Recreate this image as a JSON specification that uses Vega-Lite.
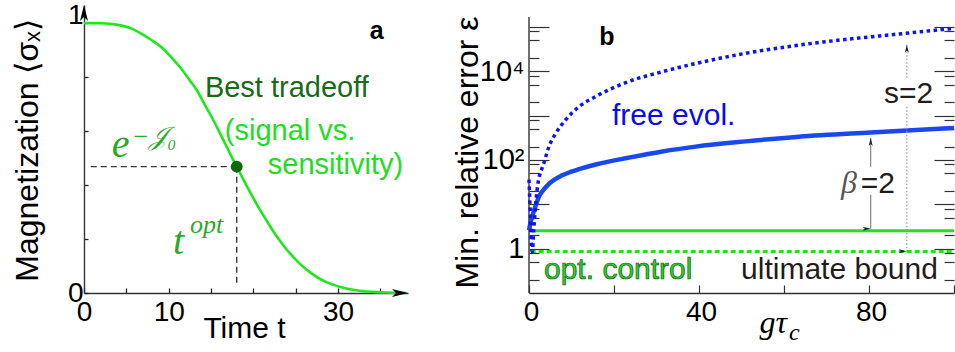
{
  "$schema": "https://vega.github.io/schema/vega-lite/v6.json",
  "padding": {"left": 10, "top": 1, "right": 0, "bottom": 0},
  "background": "white",
  "config": {
    "view": {"stroke": null},
    "font": "Liberation Sans",
    "axis": {"labelFont": "Liberation Sans", "titleFont": "Liberation Sans", "labelColor": "#000", "titleColor": "#000", "titleFontWeight": "normal", "grid": false, "labelOverlap": false, "labelFlush": false}
  },
  "datasets": {
    "curveA": [
      {"t": 0, "m": 1.0}, {"t": 2, "m": 0.999}, {"t": 4, "m": 0.993}, {"t": 5.4, "m": 0.982}, {"t": 7, "m": 0.956},
      {"t": 8, "m": 0.936}, {"t": 9.4, "m": 0.903}, {"t": 10.5, "m": 0.866}, {"t": 11.3, "m": 0.838}, {"t": 12.5, "m": 0.787},
      {"t": 13.3, "m": 0.752}, {"t": 14.3, "m": 0.695}, {"t": 15.3, "m": 0.638}, {"t": 16, "m": 0.595}, {"t": 16.75, "m": 0.548},
      {"t": 17.4, "m": 0.506}, {"t": 18.03, "m": 0.468}, {"t": 18.8, "m": 0.421}, {"t": 19.6, "m": 0.374}, {"t": 20.5, "m": 0.323},
      {"t": 21.6, "m": 0.266}, {"t": 22.5, "m": 0.221}, {"t": 23.5, "m": 0.178}, {"t": 24.5, "m": 0.14}, {"t": 25.5, "m": 0.108},
      {"t": 26.5, "m": 0.081}, {"t": 27.5, "m": 0.059}, {"t": 28.5, "m": 0.042}, {"t": 29.4, "m": 0.031}, {"t": 30.5, "m": 0.02},
      {"t": 31.4, "m": 0.014}, {"t": 32.5, "m": 0.0085}, {"t": 33.4, "m": 0.0056}, {"t": 34.5, "m": 0.0032}, {"t": 35.7, "m": 0.0017},
      {"t": 37, "m": 0.0005}, {"t": 38, "m": 0.0}
    ],
    "markerA": [{"t": 18.03, "m": 0.468}],
    "guidesA": [
      {"t": 0.8, "t2": 18.03, "m": 0.468, "m2": 0.468},
      {"t": 18.03, "t2": 18.03, "m": 0.468, "m2": 0.023}
    ],
    "axisArrowsA": [{"t": 38.25, "m": 0, "dir": "right"}, {"t": 0, "m": 1.0667, "dir": "up"}],
    "labelA": [{"t": 34.55, "m": 0.941, "text": "a"}],
    "bestA": [{"t": 14.27, "m": 0.726, "text": "Best tradeoff"}],
    "greenA": [{"t": 16.63, "m": 0.567, "text": "(signal vs."}, {"t": 21.7, "m": 0.441, "text": "sensitivity)"}],
    "mathBigA": [{"t": 3.27, "m": 0.504, "text": "e"}, {"t": 10.5, "m": 0.144, "text": "t"}],
    "mathSupA": [{"t": 5.63, "m": 0.548, "text": "−𝒥₀"}, {"t": 12.5, "m": 0.222, "text": "opt"}],
    "blueSolid": [
      {"x": 0, "v": 2.6}, {"x": 0.3, "v": 3.6}, {"x": 0.8, "v": 5.5}, {"x": 1.6, "v": 9.5}, {"x": 2.35, "v": 15},
      {"x": 3.1, "v": 19.5}, {"x": 4.7, "v": 29}, {"x": 7.8, "v": 45}, {"x": 11.8, "v": 62}, {"x": 15.7, "v": 79},
      {"x": 23.5, "v": 113}, {"x": 31.4, "v": 156}, {"x": 39.2, "v": 200}, {"x": 51, "v": 263}, {"x": 63.5, "v": 335},
      {"x": 80.4, "v": 417}, {"x": 100, "v": 525}
    ],
    "blueDotted": [
      {"x": 0, "v": 36}, {"x": 0.3, "v": 6}, {"x": 0.55, "v": 1.2}, {"x": 0.8, "v": 0.86}, {"x": 1.1, "v": 2.5},
      {"x": 1.5, "v": 8}, {"x": 2.0, "v": 25}, {"x": 3.5, "v": 85}, {"x": 4.7, "v": 200}, {"x": 6.3, "v": 400},
      {"x": 8.6, "v": 800}, {"x": 11.8, "v": 1600}, {"x": 15.7, "v": 2700}, {"x": 23.5, "v": 5900}, {"x": 31.4, "v": 9800},
      {"x": 39.2, "v": 15000}, {"x": 51, "v": 25500}, {"x": 63.5, "v": 39000}, {"x": 88.6, "v": 72000}, {"x": 100, "v": 93000}
    ],
    "greenSolid": [{"x": 0, "v": 2.55}, {"x": 100, "v": 2.55}],
    "greenDotted": [{"x": 0.4, "v": 0.86}, {"x": 100, "v": 0.86}],
    "frameB": [{"x": 0, "v": 0.1, "v2": 168000}],
    "betaArrow": [{"x": 80.4, "v": 314, "v2": 70.7}, {"x": 80.4, "v": 16.5, "v2": 2.83}],
    "sArrow": [{"x": 88.9, "v": 39900, "v2": 6470}, {"x": 88.9, "v": 1595, "v2": 0.87}],
    "headsB": [
      {"x": 80.4, "v": 314, "dir": "up"}, {"x": 80.4, "v": 2.83, "dir": "down"},
      {"x": 88.9, "v": 39900, "dir": "up"}, {"x": 88.9, "v": 0.87, "dir": "down"}
    ],
    "labelB": [{"x": 18.35, "v": 40000, "text": "b"}],
    "freeB": [{"x": 19.53, "v": 626, "text": "free evol."}],
    "darkB": [{"x": 83.5, "v": 1963, "text": "s=2"}, {"x": 78.05, "v": 18.3, "text": "=2"}, {"x": 49.9, "v": 0.207, "text": "ultimate bound"}],
    "betaB": [{"x": 73.4, "v": 18.3, "text": "β"}],
    "optB": [{"x": 3.53, "v": 0.207, "text": "opt. control"}],
    "subB": [{"x": 61.2, "v": 0.00887, "text": "c"}]
  },
  "bounds": "flush",
  "spacing": 121,
  "hconcat": [
    {
      "width": 324,
      "height": 288,
      "encoding": {
        "x": {"field": "t", "type": "quantitative", "scale": {"domain": [0, 38.25], "nice": false, "zero": false}},
        "y": {"field": "m", "type": "quantitative", "scale": {"domain": [0, 1.0667], "nice": false}}
      },
      "layer": [
        {
          "data": {"name": "guidesA"},
          "mark": {"type": "rule", "color": "#3a3a3a", "strokeWidth": 1.4, "strokeDash": [6, 4]},
          "encoding": {
            "x": {"field": "t", "type": "quantitative",
              "axis": {
                "values": [0, 5, 10, 15, 20, 25, 30, 35],
                "tickSize": -5, "tickColor": "#222", "tickWidth": 1.3,
                "domainColor": "#333", "domainWidth": 1.4,
                "labelExpr": "datum.value == 0 || datum.value == 10 || datum.value == 30 ? datum.label : ''",
                "labelFontSize": 28, "labelPadding": 10, "labelBaseline": "top",
                "title": "Time t", "titleFontSize": 30, "titleX": 160, "titleY": 44,
                "titleBaseline": "alphabetic", "titleAlign": "center"
              }},
            "x2": {"field": "t2"},
            "y": {"field": "m", "type": "quantitative",
              "axis": {
                "values": [0, 0.1, 0.2, 0.3, 0.4, 0.5, 0.6, 0.7, 0.8, 0.9, 1],
                "tickSize": -4, "tickColor": "#222", "tickWidth": 1.3,
                "domainColor": "#333", "domainWidth": 1.4,
                "labelExpr": "datum.value == 0 ? '0' : datum.value == 0.5 ? '0.5' : datum.value == 1 ? '1' : ''",
                "labelFontSize": 28, "labelPadding": 5,
                "labelBaseline": {"condition": {"test": "datum.value == 1", "value": "alphabetic"}, "value": "middle"},
                "title": "Magnetization ⟨σₓ⟩", "titleFontSize": 32, "titleX": -47, "titleY": 145,
                "titleAngle": -90, "titleAlign": "center", "titleBaseline": "alphabetic"
              }},
            "y2": {"field": "m2"}
          }
        },
        {
          "data": {"name": "curveA"},
          "mark": {"type": "line", "color": "#1de81d", "strokeWidth": 2.6, "interpolate": "monotone"},
          "encoding": {}
        },
        {
          "data": {"name": "markerA"},
          "mark": {"type": "point", "filled": true, "color": "#0b6b0b", "opacity": 1, "size": 140},
          "encoding": {}
        },
        {
          "data": {"name": "axisArrowsA"},
          "mark": {"type": "point", "filled": true, "color": "#000", "opacity": 1, "size": 64},
          "encoding": {
            "shape": {"field": "dir", "type": "nominal", "legend": null,
              "scale": {"domain": ["right", "up"], "range": ["M0,0L-4,-1L-3,0L-4,1Z", "M0,0L-1,4L0,3L1,4Z"]}}
          }
        },
        {
          "data": {"name": "labelA"},
          "mark": {"type": "text", "font": "Liberation Sans", "fontWeight": "bold", "fontSize": 25, "align": "center", "baseline": "alphabetic", "color": "#000"},
          "encoding": {"text": {"field": "text"}}
        },
        {
          "data": {"name": "bestA"},
          "mark": {"type": "text", "font": "Liberation Sans", "fontSize": 29, "align": "left", "baseline": "alphabetic", "color": "#176b17"},
          "encoding": {"text": {"field": "text"}}
        },
        {
          "data": {"name": "greenA"},
          "mark": {"type": "text", "font": "Liberation Sans", "fontSize": 29, "align": "left", "baseline": "alphabetic", "color": "#22dd22"},
          "encoding": {"text": {"field": "text"}}
        },
        {
          "data": {"name": "mathBigA"},
          "mark": {"type": "text", "font": "Liberation Serif", "fontStyle": "italic", "fontSize": 40, "align": "left", "baseline": "alphabetic", "color": "#2aaa2a"},
          "encoding": {"text": {"field": "text"}}
        },
        {
          "data": {"name": "mathSupA"},
          "mark": {"type": "text", "font": "Liberation Serif", "fontStyle": "italic", "fontSize": 26, "align": "left", "baseline": "alphabetic", "color": "#2aaa2a"},
          "encoding": {"text": {"field": "text"}}
        }
      ]
    },
    {
      "width": 425,
      "height": 288,
      "encoding": {
        "x": {"field": "x", "type": "quantitative", "scale": {"domain": [0, 100], "nice": false, "zero": false}},
        "y": {"field": "v", "type": "quantitative", "scale": {"type": "log", "domain": [0.1, 313000], "nice": false}}
      },
      "resolve": {"axis": {"y": "independent"}},
      "layer": [
        {
          "data": {"name": "frameB"},
          "mark": {"type": "rule", "color": "#333", "strokeWidth": 1.4},
          "encoding": {
            "x": {"field": "x", "type": "quantitative",
              "axis": {
                "values": [0, 20, 40, 60, 80, 100],
                "tickSize": -8, "tickColor": "#333", "tickWidth": 1.2,
                "domainColor": "#333", "domainWidth": 1.4,
                "labelExpr": "datum.value == 0 || datum.value == 40 || datum.value == 80 ? datum.label : ''",
                "labelFontSize": 28, "labelPadding": 13, "labelBaseline": "top", "labelOffset": 2,
                "title": "gτ", "titleFont": "Liberation Serif", "titleFontStyle": "italic", "titleFontSize": 32,
                "titleX": 230, "titleY": 39, "titleBaseline": "alphabetic", "titleAlign": "left"
              }},
            "y": {"field": "v", "type": "quantitative",
              "axis": {
                "orient": "left",
                "values": [0.2, 0.5, 0.8, 1, 2, 5, 8, 10, 20, 50, 80, 100, 200, 500, 800, 1000, 2000, 5000, 8000, 10000, 20000, 50000, 80000, 100000],
                "domain": false,
                "tickSize": {"condition": {"test": "datum.value == 1 || datum.value == 10 || datum.value == 100 || datum.value == 1000 || datum.value == 10000 || datum.value == 100000", "value": -20}, "value": -10},
                "tickColor": "#333", "tickWidth": 1.2,
                "labelExpr": "datum.value == 1 ? '1' : datum.value == 100 ? '10²' : datum.value == 10000 ? '10⁴' : ''",
                "labelFontSize": 29, "labelPadding": 25, "labelBaseline": "middle",
                "title": "Min. relative error ε", "titleFontSize": 32, "titleX": -52, "titleY": 147,
                "titleAngle": -90, "titleAlign": "center", "titleBaseline": "alphabetic"
              }},
            "y2": {"field": "v2"}
          }
        },
        {
          "data": {"name": "greenSolid"},
          "mark": {"type": "line", "color": "#22e022", "strokeWidth": 3},
          "encoding": {
            "y": {"field": "v", "type": "quantitative",
              "axis": {
                "orient": "right",
                "values": [0.2, 0.5, 0.8, 1, 2, 5, 8, 10, 20, 50, 80, 100, 200, 500, 800, 1000, 2000, 5000, 8000, 10000, 20000, 50000, 80000, 100000],
                "domain": false, "labels": false, "title": null,
                "tickSize": {"condition": {"test": "datum.value == 1 || datum.value == 10 || datum.value == 100 || datum.value == 1000 || datum.value == 10000 || datum.value == 100000", "value": -20}, "value": -10},
                "tickColor": "#333", "tickWidth": 1.2
              }}
          }
        },
        {
          "data": {"name": "greenDotted"},
          "mark": {"type": "line", "color": "#22e022", "strokeWidth": 3, "strokeDash": [5, 3]},
          "encoding": {"y": {"field": "v", "type": "quantitative", "axis": null}}
        },
        {
          "data": {"name": "blueSolid"},
          "mark": {"type": "line", "color": "#1a48ee", "strokeWidth": 4.5, "interpolate": "monotone"},
          "encoding": {"y": {"field": "v", "type": "quantitative", "axis": null}}
        },
        {
          "data": {"name": "blueDotted"},
          "mark": {"type": "line", "color": "#0a14f0", "strokeWidth": 3.5, "strokeDash": [3.5, 3.5], "interpolate": "monotone"},
          "encoding": {"y": {"field": "v", "type": "quantitative", "axis": null}}
        },
        {
          "data": {"name": "betaArrow"},
          "mark": {"type": "rule", "color": "#888", "strokeWidth": 1.2},
          "encoding": {"y": {"field": "v", "type": "quantitative", "axis": null}, "y2": {"field": "v2"}}
        },
        {
          "data": {"name": "sArrow"},
          "mark": {"type": "rule", "color": "#999", "strokeWidth": 1.2, "strokeDash": [1.5, 2]},
          "encoding": {"y": {"field": "v", "type": "quantitative", "axis": null}, "y2": {"field": "v2"}}
        },
        {
          "data": {"name": "headsB"},
          "mark": {"type": "point", "filled": true, "color": "#222", "opacity": 1, "size": 16},
          "encoding": {
            "y": {"field": "v", "type": "quantitative", "axis": null},
            "shape": {"field": "dir", "type": "nominal", "legend": null,
              "scale": {"domain": ["up", "down"], "range": ["M0,0L-1.2,4L0,3.2L1.2,4Z", "M0,0L-1.2,-4L0,-3.2L1.2,-4Z"]}}
          }
        },
        {
          "data": {"name": "labelB"},
          "mark": {"type": "text", "font": "Liberation Sans", "fontWeight": "bold", "fontSize": 25, "align": "center", "baseline": "alphabetic", "color": "#000"},
          "encoding": {"y": {"field": "v", "type": "quantitative", "axis": null}, "text": {"field": "text"}}
        },
        {
          "data": {"name": "freeB"},
          "mark": {"type": "text", "font": "Liberation Sans", "fontSize": 30, "align": "left", "baseline": "alphabetic", "color": "#0b0bee"},
          "encoding": {"y": {"field": "v", "type": "quantitative", "axis": null}, "text": {"field": "text"}}
        },
        {
          "data": {"name": "darkB"},
          "mark": {"type": "text", "font": "Liberation Sans", "fontSize": 30, "align": "left", "baseline": "alphabetic", "color": "#241c1c"},
          "encoding": {"y": {"field": "v", "type": "quantitative", "axis": null}, "text": {"field": "text"}}
        },
        {
          "data": {"name": "betaB"},
          "mark": {"type": "text", "font": "Liberation Serif", "fontStyle": "italic", "fontSize": 32, "align": "left", "baseline": "alphabetic", "color": "#555"},
          "encoding": {"y": {"field": "v", "type": "quantitative", "axis": null}, "text": {"field": "text"}}
        },
        {
          "data": {"name": "optB"},
          "mark": {"type": "text", "font": "Liberation Sans", "fontSize": 30, "align": "left", "baseline": "alphabetic", "color": "#2ecc2e", "stroke": "#0d5e0d", "strokeWidth": 0.7},
          "encoding": {"y": {"field": "v", "type": "quantitative", "axis": null}, "text": {"field": "text"}}
        },
        {
          "data": {"name": "subB"},
          "mark": {"type": "text", "font": "Liberation Serif", "fontStyle": "italic", "fontSize": 24, "align": "left", "baseline": "alphabetic", "color": "#000"},
          "encoding": {"y": {"field": "v", "type": "quantitative", "axis": null}, "text": {"field": "text"}}
        }
      ]
    }
  ]
}
